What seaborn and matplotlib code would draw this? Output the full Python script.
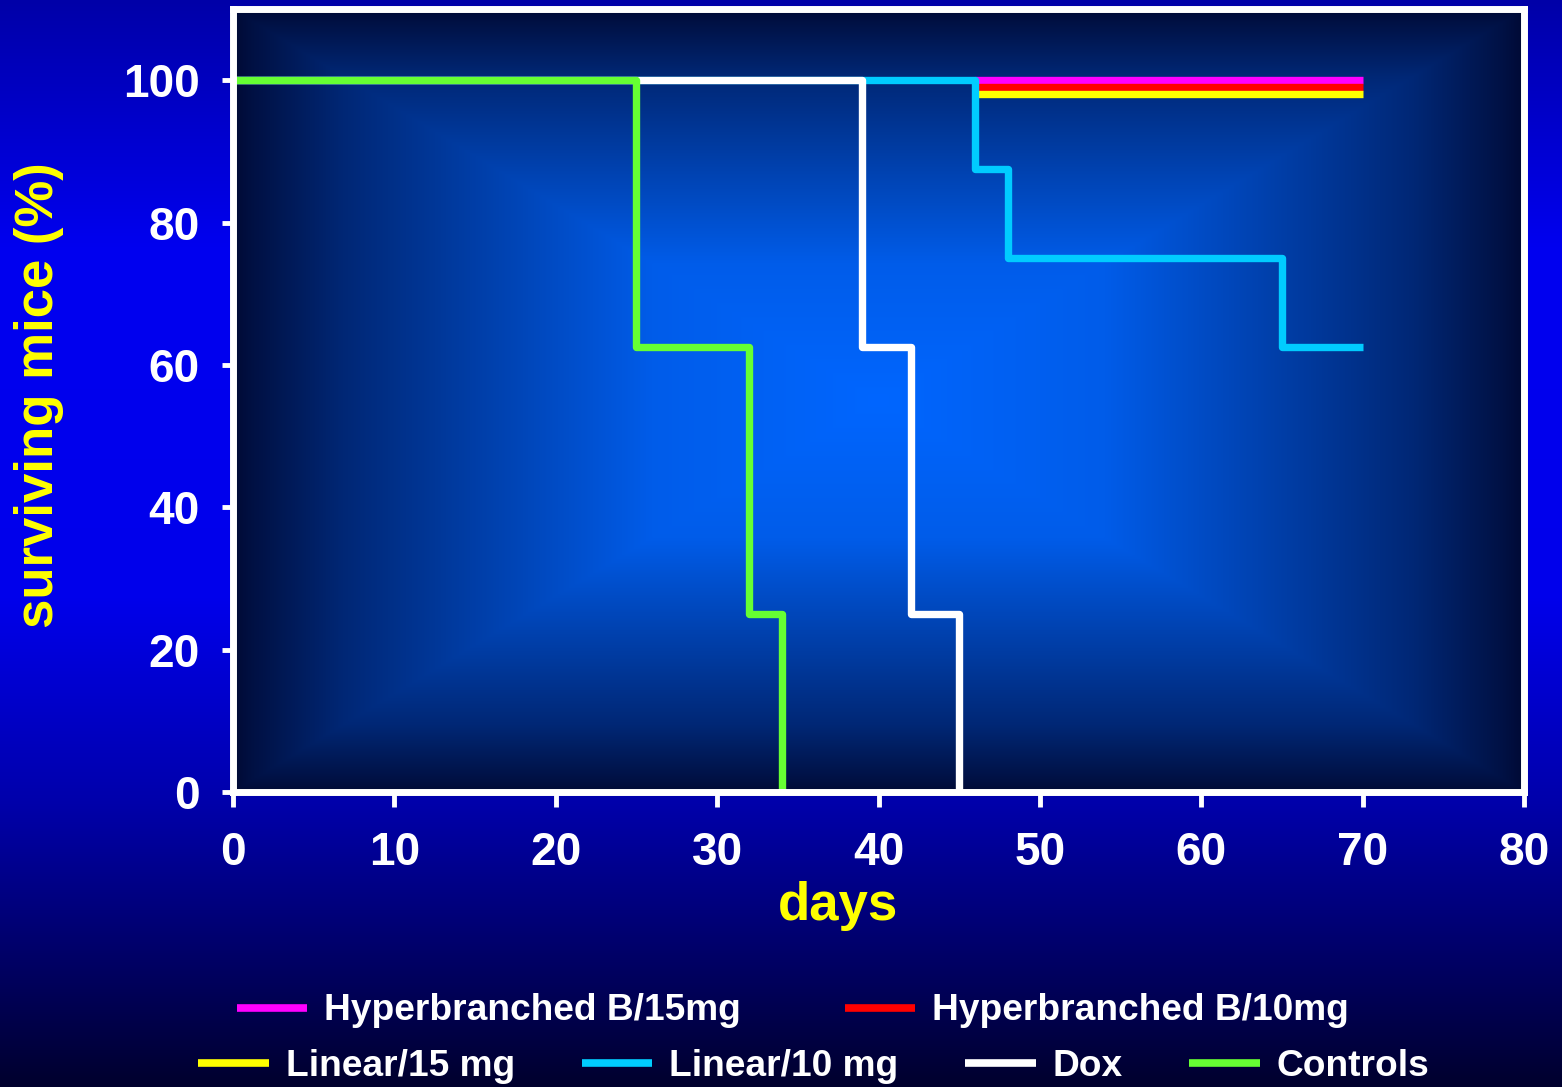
import numpy as np
import pandas as pd
import seaborn as sns
import matplotlib.pyplot as plt
from matplotlib.lines import Line2D

# survival data
groups = ["Hyperbranched B/15mg", "Hyperbranched B/10mg", "Linear/15 mg",
          "Linear/10 mg", "Dox", "Controls"]
colors = ["#ff00ff", "#ff0000", "#ffff00", "#00ccff", "#ffffff", "#66ff33"]

hb15_days = [46, 70]
hb15_surv = [100, 100]
hb10_days = [46, 70]
hb10_surv = [99, 99]
lin15_days = [46, 70]
lin15_surv = [98, 98]
lin10_days = [0, 46, 48, 65, 70]
lin10_surv = [100, 87.5, 75, 62.5, 62.5]
dox_days = [0, 39, 42, 45]
dox_surv = [100, 62.5, 25, 0]
ctrl_days = [0, 25, 32, 34]
ctrl_surv = [100, 62.5, 25, 0]

x_ticks = [0, 10, 20, 30, 40, 50, 60, 70, 80]
y_ticks = [0, 20, 40, 60, 80, 100]

series = [(hb15_days, hb15_surv), (hb10_days, hb10_surv), (lin15_days, lin15_surv),
          (lin10_days, lin10_surv), (dox_days, dox_surv), (ctrl_days, ctrl_surv)]
frames = []
for name, (d, s) in zip(groups, series):
    frames.append(pd.DataFrame({"day": d, "survival": s, "group": name}))
df = pd.concat(frames, ignore_index=True)

sns.set_style("ticks")
plt.rcParams["font.family"] = ["Liberation Sans", "DejaVu Sans"]
plt.rcParams["font.weight"] = "bold"
plt.rcParams["axes.labelweight"] = "bold"

fig = plt.figure(figsize=(15.62, 10.87), dpi=100)
fig.set_facecolor("#00004a")

# figure background: vertical blue gradient
bg = fig.add_axes([0, 0, 1, 1], zorder=-5)
ys = np.linspace(0, 1, 1087)
blue = np.interp(ys, [0, 0.23, 0.55, 0.74, 1.0], [168, 240, 235, 170, 45]) / 255
grad = np.zeros((1087, 2, 3))
grad[:, :, 2] = blue[:, None]
bg.imshow(grad, aspect="auto", extent=[0, 1, 0, 1], origin="upper")
bg.axis("off")

ax = fig.add_axes([233 / 1562, (1087 - 792) / 1087, (1524 - 233) / 1562, (792 - 9) / 1087])

# plot area: rectangular "path" gradient, bright centre, dark edges
u = np.linspace(-1, 1, 600)
v = np.linspace(-1, 1, 400)
t = np.maximum(np.abs(u)[None, :], np.abs(v)[:, None])
f = np.interp(t, [0, 0.35, 0.6, 0.83, 0.97, 1.0], [1.0, 0.9, 0.62, 0.36, 0.13, 0.06])
center = np.array([0, 102, 255]) / 255
edge = np.array([0, 4, 40]) / 255
img = edge[None, None, :] + (center - edge)[None, None, :] * f[..., None]
ax.imshow(img, extent=[0, 80, 0, 110], aspect="auto", origin="lower", zorder=0)

sns.lineplot(data=df, x="day", y="survival", hue="group", hue_order=groups,
             palette=colors, drawstyle="steps-post", linewidth=5.3,
             estimator=None, legend=False, ax=ax, solid_joinstyle="round",
             solid_capstyle="butt")

ax.set_xlim(0, 80)
ax.set_ylim(0, 110)
ax.set_xticks(x_ticks)
ax.set_yticks(y_ticks)
ax.grid(False)
for s in ax.spines.values():
    s.set_color("white")
    s.set_linewidth(5)

ax.tick_params(axis="x", length=11, width=3.5, color="white", pad=17,
               labelsize=33, labelcolor="white", direction="out")
ax.tick_params(axis="y", length=8, width=3.5, color="white", pad=16,
               labelsize=33, labelcolor="white", direction="out")

ax.set_xlabel("days", color="yellow", fontsize=38)
ax.xaxis.set_label_coords(0.4686, -0.114)
ax.set_ylabel("surviving mice (%)", color="yellow", fontsize=38)
ax.yaxis.set_label_coords(-0.131, 0.507)

handles = [Line2D([0], [0], color=c, lw=5.5, solid_capstyle="butt") for c in colors]
prop = {"weight": "bold", "size": 26.7}
fig.legend(handles[:2], groups[:2], ncol=2, loc="center",
           bbox_to_anchor=(793 / 1562, (1087 - 1011) / 1087), frameon=False,
           prop=prop, labelcolor="white", handlelength=1.9, handletextpad=0.46,
           columnspacing=2.8)
fig.legend(handles[2:], groups[2:], ncol=4, loc="center",
           bbox_to_anchor=(814 / 1562, (1087 - 1066) / 1087), frameon=False,
           prop=prop, labelcolor="white", handlelength=1.9, handletextpad=0.46,
           columnspacing=1.8)

fig.savefig("out.png", dpi=100, facecolor=fig.get_facecolor())
